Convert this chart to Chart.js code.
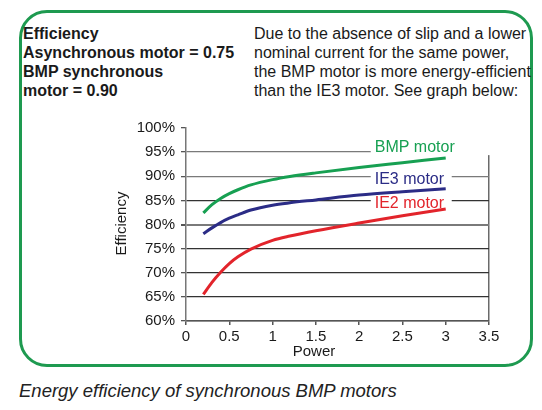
<!DOCTYPE html>
<html>
<head>
<meta charset="utf-8">
<script src="https://cdn.jsdelivr.net/npm/chart.js@4"></script>
<style>
  html, body { margin:0; padding:0; background:#fff; }
  body { width:542px; height:410px; position:relative; overflow:hidden; font-family:"Liberation Sans", Arial, sans-serif; color:#1a1a1a; }
  #box { position:absolute; left:19px; top:10px; width:508px; height:351px; border:3px solid #1e9a50; border-radius:28px; }
  #left { position:absolute; left:23px; top:24px; font-size:16px; line-height:19px; font-weight:bold; white-space:nowrap; }
  #right { position:absolute; left:254px; top:24px; font-size:16px; line-height:19px; white-space:nowrap; }
  #cap { position:absolute; left:19px; top:380px; font-size:18.5px; font-style:italic; white-space:nowrap; color:#222; }
  #wrap { position:absolute; left:0; top:0; width:542px; height:410px; }
</style>
</head>
<body>
<div id="box"></div>
<div id="left">Efficiency<br>Asynchronous motor = 0.75<br>BMP synchronous<br>motor = 0.90</div>
<div id="right">Due to the absence of slip and a lower<br>nominal current for the same power,<br>the BMP motor is more energy-efficient<br>than the IE3 motor. See graph below:</div>
<div id="cap">Energy efficiency of synchronous BMP motors</div>
<div id="wrap"><canvas id="c" width="542" height="410"></canvas></div>
<script>
// ---- data ----
const power  = [0.2, 0.3, 0.4, 0.5, 0.6, 0.75, 1.0, 1.2, 1.5, 2.0, 2.5, 3.0];
const bmpEff = [82.4, 84.1, 85.4, 86.4, 87.2, 88.2, 89.3, 89.95, 90.7, 91.8, 92.8, 93.8];
const ie3Eff = [78.1, 79.3, 80.4, 81.3, 82.0, 83.0, 84.0, 84.5, 85.1, 86.1, 86.8, 87.4];
const ie2Eff = [65.5, 68.0, 70.1, 71.9, 73.3, 74.9, 76.7, 77.6, 78.7, 80.3, 81.8, 83.2];
const seriesNames = ["BMP motor", "IE3 motor", "IE2 motor"];
const labelAtX = [2.18, 2.18, 2.18];
const labelAtY = [95.9, 89.4, 84.3];
const xTitle = "Power";
const yTitle = "Efficiency";

const colors = ["#17a052", "#2b2c86", "#e2242b"];
const toPts = arr => arr.map((v, i) => ({x: power[i], y: v}));
const font = "Liberation Sans, Arial, sans-serif";

const labelPlugin = {
  id: 'labels',
  beforeDatasetsDraw(chart) {
    const {ctx, scales:{x, y}} = chart;
    ctx.save();
    ctx.fillStyle = '#fff';
    const x0 = x.getPixelForValue(labelAtX[0]) - 4;
    const yTop = y.getPixelForValue(100) - 2;
    ctx.fillRect(x0, yTop, 125, y.getPixelForValue(95) - yTop + 3);
    for (let i = 1; i < 3; i++) {
      const yc = y.getPixelForValue(labelAtY[i]);
      ctx.fillRect(x0, yc - 9, 81, 18);
    }
    ctx.restore();
  },
  afterDatasetsDraw(chart) {
    const {ctx, scales:{x, y}, chartArea} = chart;
    ctx.save();
    ctx.font = "16px " + font;
    ctx.textBaseline = 'middle';
    ctx.textAlign = 'left';
    seriesNames.forEach((n, i) => {
      ctx.fillStyle = colors[i];
      ctx.fillText(n, x.getPixelForValue(labelAtX[i]), y.getPixelForValue(labelAtY[i]));
    });
    ctx.font = "15px " + font;
    ctx.fillStyle = '#1a1a1a';
    ctx.textAlign = 'center';
    ctx.fillText(xTitle, 314, chartArea.bottom + 31);
    ctx.translate(122, (chartArea.top + chartArea.bottom) / 2 - 1);
    ctx.rotate(-Math.PI / 2);
    ctx.fillText(yTitle, 0, 0);
    ctx.restore();
  }
};

new Chart(document.getElementById('c'), {
  type: 'line',
  data: {
    datasets: [
      {label: seriesNames[0], data: toPts(bmpEff), borderColor: colors[0]},
      {label: seriesNames[1], data: toPts(ie3Eff), borderColor: colors[1]},
      {label: seriesNames[2], data: toPts(ie2Eff), borderColor: colors[2]}
    ].map(d => Object.assign(d, {borderWidth: 3, pointRadius: 0, fill: false, cubicInterpolationMode: 'monotone', borderCapStyle: 'butt'}))
  },
  options: {
    responsive: false,
    animation: false,
    devicePixelRatio: 1,
    layout: {padding: {left: 100, top: 128, right: 53, bottom: 44}},
    plugins: {legend: {display: false}, tooltip: {enabled: false}},
    scales: {
      x: {
        type: 'linear', min: 0, max: 3.5,
        afterFit: s => { s.height = 45; },
        ticks: {stepSize: 0.5, color: '#1a1a1a', font: {size: 15, family: font}, padding: 3, maxRotation: 0,
                callback: v => String(v)},
        grid: {color: c => (c.tick && c.tick.value === 3.5) ? '#6a6a6a' : 'rgba(0,0,0,0)', lineWidth: 1.5,
               tickColor: '#555', tickLength: 4, drawOnChartArea: true},
        border: {display: true, color: '#555', width: 1.5}
      },
      y: {
        type: 'linear', min: 60, max: 100,
        afterFit: s => { s.width = 86; },
        ticks: {stepSize: 5, color: '#1a1a1a', font: {size: 15, family: font}, padding: 6,
                callback: v => v + '%'},
        grid: {color: c => {
                 if (!c.tick) return 'rgba(0,0,0,0)';
                 const v = c.tick.value;
                 if (v === 100) return 'rgba(0,0,0,0)';
                 if (v === 95 || v === 90 || v === 80) return '#7a7a7a';
                 return '#333';
               }, lineWidth: c => (c.tick && c.tick.value === 80) ? 2 : 1.3,
               tickColor: '#555', tickLength: 5},
        border: {display: true, color: '#777', width: 1.5}
      }
    }
  },
  plugins: [labelPlugin]
});
</script>
</body>
</html>
